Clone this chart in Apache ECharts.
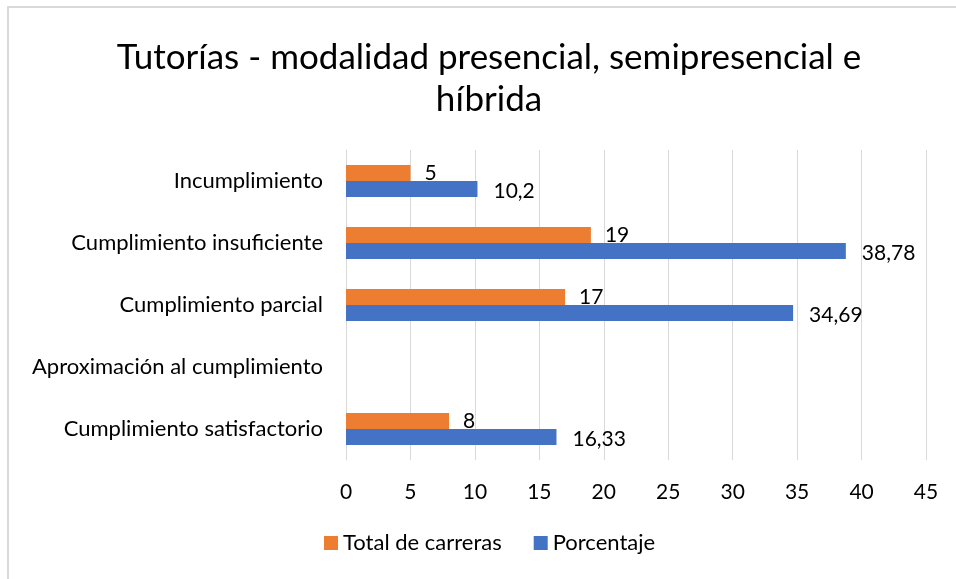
<!DOCTYPE html>
<html>
<head>
<meta charset="utf-8">
<script src="https://cdn.jsdelivr.net/npm/echarts@6/dist/echarts.min.js"></script>
<style>
  html, body { margin: 0; padding: 0; background: #fff; }
  #main { width: 956px; height: 579px; }
</style>
</head>
<body>
<div id="main"></div>
<script>
const categories = [
  "Incumplimiento",
  "Cumplimiento insuficiente",
  "Cumplimiento parcial",
  "Aproximación al cumplimiento",
  "Cumplimiento satisfactorio",
];
const totalCarreras = [5, 19, 17, null, 8];
const porcentaje = [10.2, 38.78, 34.69, null, 16.33];
const xTicks = { min: 0, max: 45, interval: 5 };

const font = "Lato";
// decimal comma as in the original
const comma = (p) => String(p.value).replace(".", ",");

const myChart = echarts.init(document.getElementById("main"));
const option = {
  backgroundColor: "#fff",
  textStyle: { fontFamily: font, color: "#000" },
  // light frame round the chart (left and top edges visible)
  graphic: [
    {
      type: "rect",
      shape: { x: 8, y: 7, width: 1000, height: 1000 },
      style: { fill: "none", stroke: "#d9d9d9", lineWidth: 2 },
    },
  ],
  title: {
    text: "Tutorías - modalidad presencial, semipresencial e\nhíbrida",
    left: 484,
    top: 32,
    textAlign: "center",
    textStyle: {
      fontFamily: font,
      fontSize: 35,
      fontWeight: "normal",
      color: "#000",
      lineHeight: 42,
    },
  },
  grid: {
    left: 346,
    right: 30,
    top: 150,
    bottom: 119,
    containLabel: false,
  },
  legend: {
    bottom: 20,
    left: 319,
    itemWidth: 14,
    itemHeight: 14,
    itemGap: 32,
    icon: "rect",
    textStyle: { fontFamily: font, fontSize: 22, color: "#000" },
    data: ["Total de carreras", "Porcentaje"],
  },
  xAxis: {
    type: "value",
    min: xTicks.min,
    max: xTicks.max,
    interval: xTicks.interval,
    axisLine: { show: false },
    axisTick: { show: false },
    splitLine: { show: true, lineStyle: { color: "#d9d9d9", width: 1 } },
    axisLabel: { fontFamily: font, fontSize: 21, color: "#000", margin: 22 },
  },
  yAxis: {
    type: "category",
    inverse: true,
    data: categories,
    axisLine: { show: true, lineStyle: { color: "#d9d9d9" } },
    axisTick: { show: false },
    axisLabel: { fontFamily: font, fontSize: 22, color: "#000", margin: 23 },
  },
  series: [
    {
      name: "Total de carreras",
      type: "bar",
      data: totalCarreras,
      barGap: "0%",
      barCategoryGap: "48%",
      itemStyle: { color: "#ED7D31" },
      label: {
        show: true,
        position: "right",
        distance: 14,
        fontFamily: font,
        fontSize: 21,
        color: "#000",
        formatter: comma,
      },
    },
    {
      name: "Porcentaje",
      type: "bar",
      data: porcentaje,
      barGap: "0%",
      barCategoryGap: "48%",
      itemStyle: { color: "#4472C4" },
      label: {
        show: true,
        position: "right",
        distance: 16,
        offset: [0, 2],
        fontFamily: font,
        fontSize: 21,
        color: "#000",
        formatter: comma,
      },
    },
  ],
};
myChart.setOption(option);
window.addEventListener("resize", () => myChart.resize());
</script>
</body>
</html>
